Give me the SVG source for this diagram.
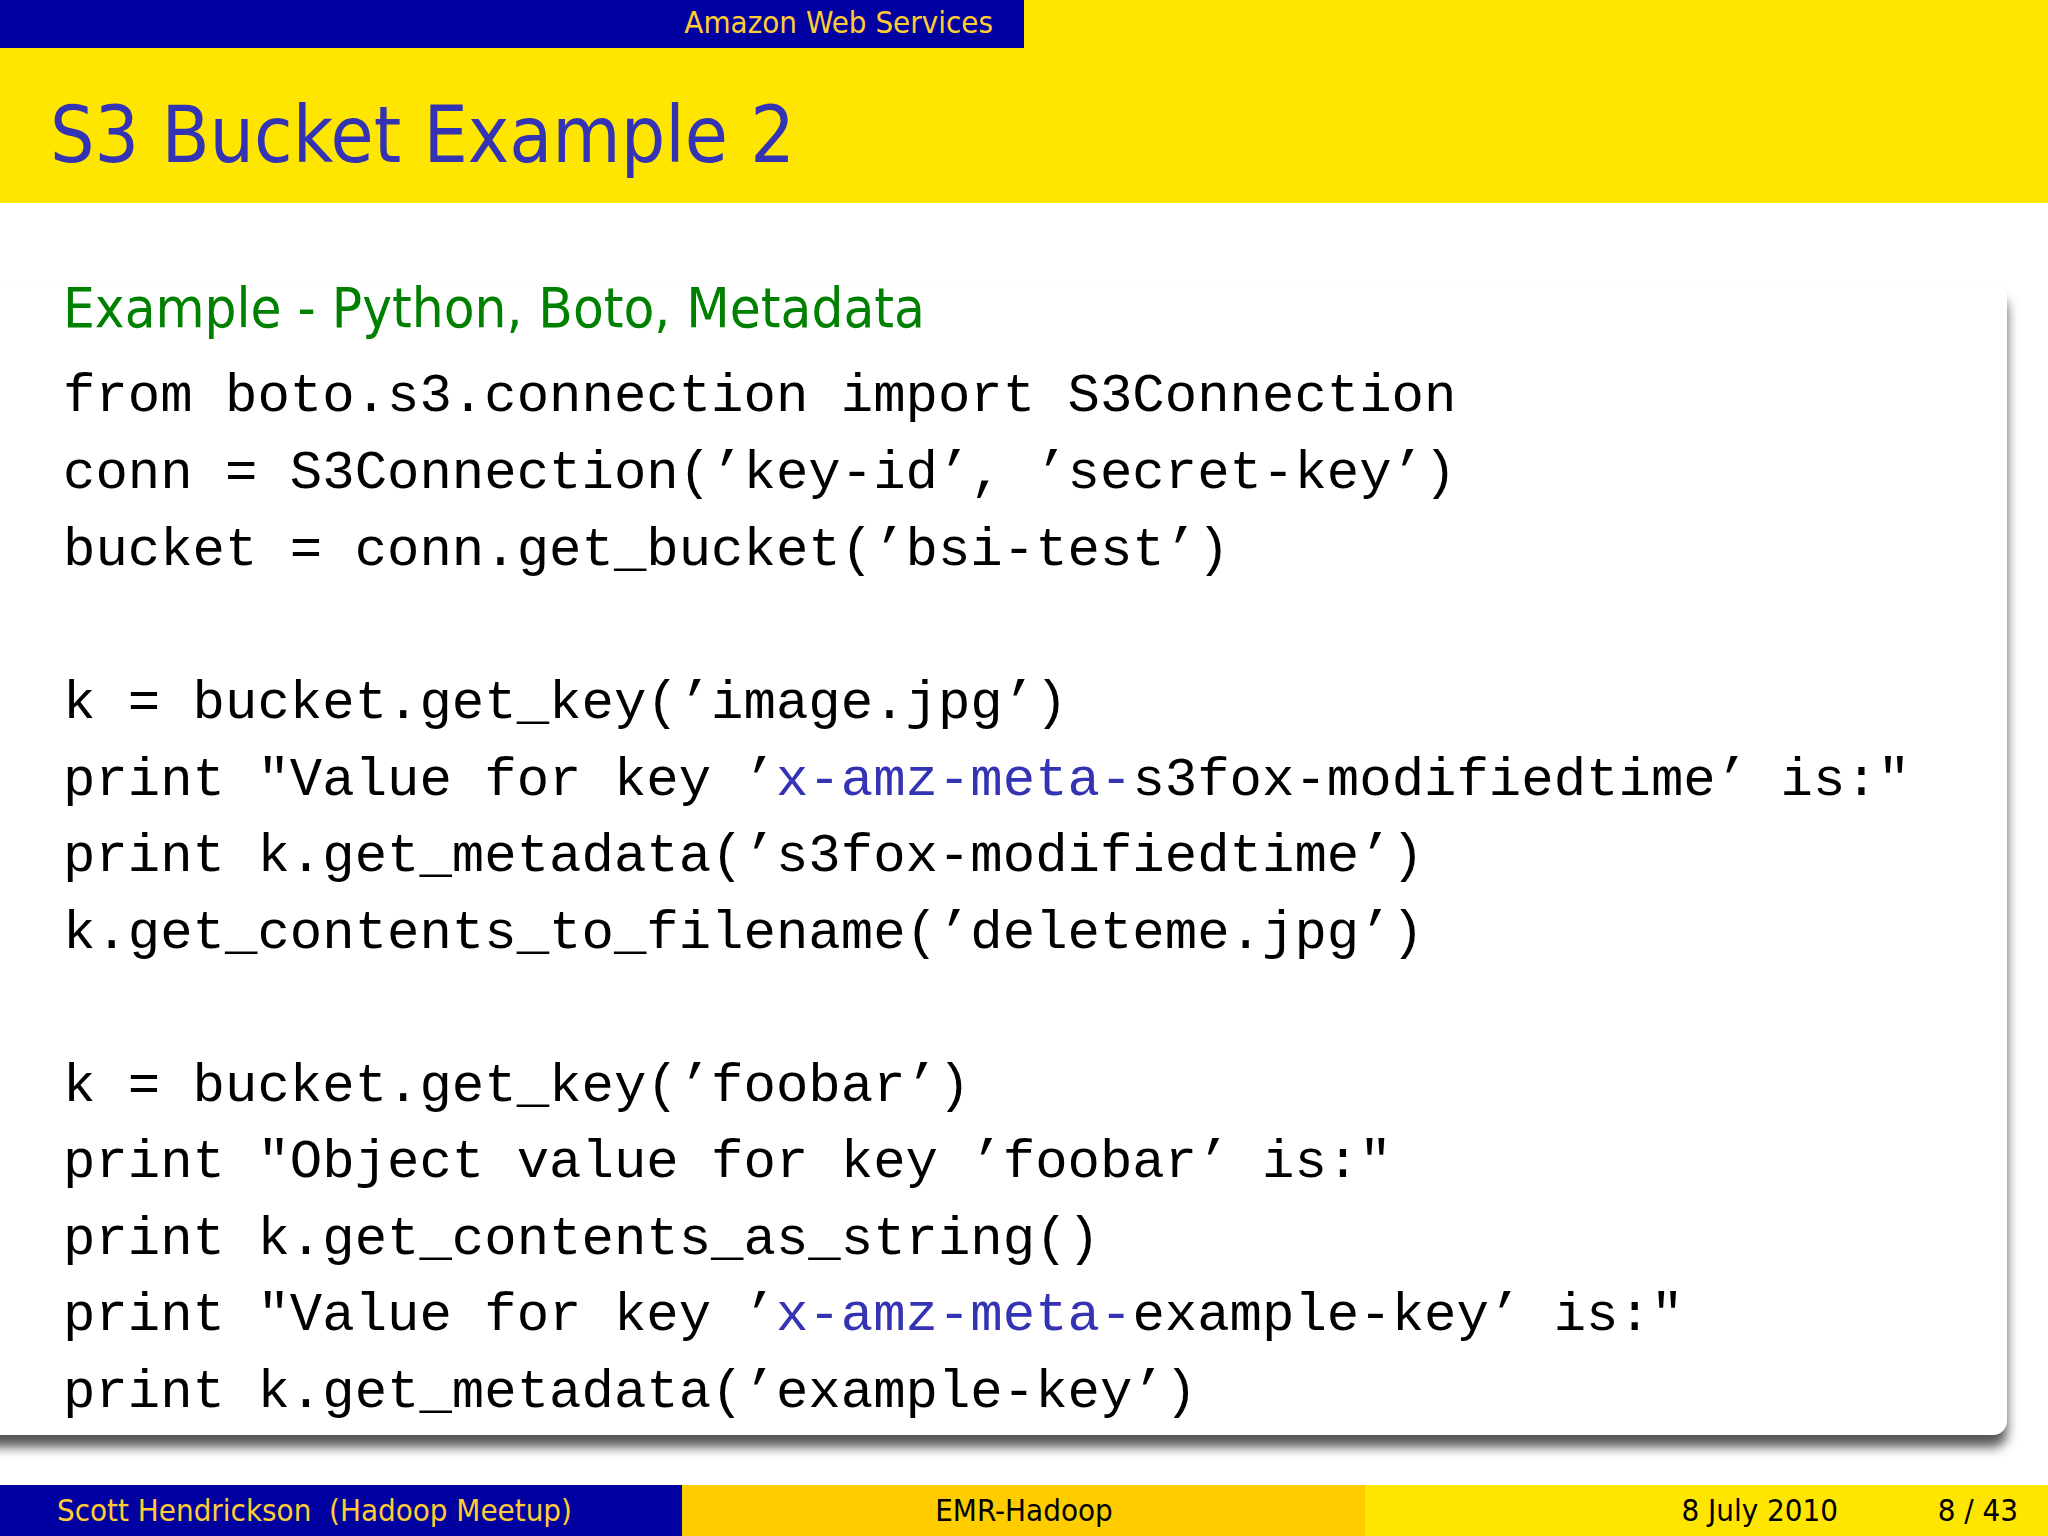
<svg xmlns="http://www.w3.org/2000/svg" width="2048" height="1536" viewBox="0 0 2048 1536">
<defs>
<filter id="sh" x="-5%" y="-5%" width="110%" height="115%"><feGaussianBlur stdDeviation="6"/></filter>
<style>
.code{font-family:"Liberation Mono",monospace;font-size:54px;fill:#000}
.m{fill:#3333B3}
.sans{font-family:"DejaVu Sans Condensed","DejaVu Sans",sans-serif}
</style>
</defs>
<rect width="2048" height="1536" fill="#fff"/>
<g id="header">
<rect x="0" y="0" width="1024" height="48" fill="#0000A0"/>
<rect x="1024" y="0" width="1024" height="48" fill="#FFE600"/>
<text x="993" y="33" text-anchor="end" class="sans" font-size="31" fill="#FFCC33">Amazon Web Services</text>
<rect x="0" y="48" width="2048" height="155" fill="#FFE600"/>
<text x="50" y="162" class="sans" font-size="78" fill="#3333B3">S3 Bucket Example 2</text>
</g>
<g id="block">
<rect x="-30" y="297" width="2037" height="1150" rx="14" fill="#555" filter="url(#sh)"/>
<rect x="-30" y="285" width="2037" height="1150" rx="14" fill="#fff"/>
<text x="63" y="327" class="sans" font-size="56" fill="#008000">Example - Python, Boto, Metadata</text>
<text class="code">
<tspan x="63" y="411">from boto.s3.connection import S3Connection</tspan>
<tspan x="63" y="488">conn = S3Connection(’key-id’, ’secret-key’)</tspan>
<tspan x="63" y="565">bucket = conn.get_bucket(’bsi-test’)</tspan>
<tspan x="63" y="718">k = bucket.get_key(’image.jpg’)</tspan>
<tspan x="63" y="795">print "Value for key ’<tspan class="m">x-amz-meta-</tspan>s3fox-modifiedtime’ is:"</tspan>
<tspan x="63" y="871">print k.get_metadata(’s3fox-modifiedtime’)</tspan>
<tspan x="63" y="948">k.get_contents_to_filename(’deleteme.jpg’)</tspan>
<tspan x="63" y="1101">k = bucket.get_key(’foobar’)</tspan>
<tspan x="63" y="1177">print "Object value for key ’foobar’ is:"</tspan>
<tspan x="63" y="1254">print k.get_contents_as_string()</tspan>
<tspan x="63" y="1330">print "Value for key ’<tspan class="m">x-amz-meta-</tspan>example-key’ is:"</tspan>
<tspan x="63" y="1407">print k.get_metadata(’example-key’)</tspan>
</text>
</g>
<g id="footer">
<rect x="0" y="1485" width="682" height="51" fill="#0000A0"/>
<rect x="682" y="1485" width="683" height="51" fill="#FFCC00"/>
<rect x="1365" y="1485" width="683" height="51" fill="#FFE600"/>
<text x="57" y="1521" class="sans" font-size="31" fill="#FFCC33" xml:space="preserve">Scott Hendrickson  (Hadoop Meetup)</text>
<text x="1024" y="1521" text-anchor="middle" class="sans" font-size="31" fill="#000">EMR-Hadoop</text>
<text x="1838" y="1521" text-anchor="end" class="sans" font-size="31" fill="#000">8 July 2010</text>
<text x="2018" y="1521" text-anchor="end" class="sans" font-size="31" fill="#000">8 / 43</text>
</g>
</svg>
